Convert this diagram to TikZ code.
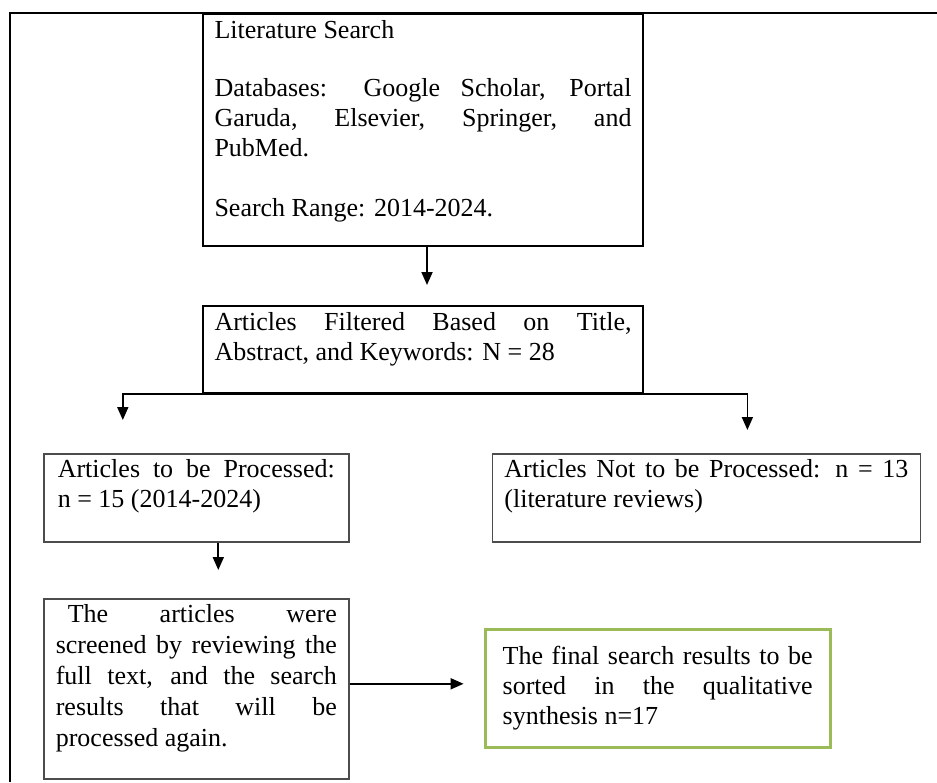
\documentclass[tikz,border=0pt]{standalone}
\usepackage{fontspec}
\setmainfont{Liberation Serif}
\usetikzlibrary{arrows.meta,positioning}
\definecolor{boxgreen}{HTML}{9BBB59}
\hbadness=10000

\begin{document}
\begin{tikzpicture}[
x=0.5pt,y=-0.5pt,
stepbox/.style={
  draw=black!70,
  line width=0.8pt,
  anchor=north west,
  align=justify,
  inner xsep=5.75pt,
  inner ysep=3pt,
  text height=9pt,
  font=\fontsize{13}{15}\selectfont
},
mainbox/.style={
  stepbox,
  draw=black,
  line width=1pt
},
greenbox/.style={
  stepbox,
  draw=boxgreen,
  line width=1.6pt,
  inner xsep=8.75pt,
  inner ysep=8.5pt
},
arr/.style={
  -{Triangle[length=6.5pt,width=5.5pt]},
  line width=0.9pt
}
]
\useasboundingbox (0,0) rectangle (937,782);

% page frame
\draw[line width=1pt] (10,782) -- (10,13) -- (937,13);

\node[mainbox,text width=208.5pt,text depth=101pt] (lit) at (202,13)
  {Literature Search\par\vspace{14pt}
   Databases: Google Scholar, Portal\linebreak Garuda, Elsevier, Springer, and\linebreak PubMed.\par\vspace{15pt}
   Search Range: 2014-2024.};
\node[mainbox,text width=208.5pt,text depth=28.5pt,below=29pt of lit] (filt)
  {Articles Filtered Based on Title,\linebreak Abstract, and Keywords: N = 28};

\node[stepbox,inner xsep=7pt,text width=138.5pt,text depth=29pt] (proc) at (43,453)
  {Articles to be Processed:\linebreak n = 15 (2014-2024)};
\node[stepbox,inner xsep=6pt,text width=202pt,text depth=29pt,right=71pt of proc] (excl)
  {Articles Not to be Processed: n = 13\linebreak (literature reviews)};

\node[stepbox,inner xsep=6pt,text width=140.5pt,text depth=75pt,
  font=\fontsize{13}{15.5}\selectfont,below=27.7pt of proc] (scr)
  {\hspace*{6pt}The articles were\linebreak screened by reviewing the\linebreak
   full text, and the search\linebreak results that will be\linebreak processed again.};
\node[greenbox,text width=155pt,text depth=33pt,right=67pt of scr] (final)
  {The final search results to be\linebreak sorted in the qualitative\linebreak synthesis n=17};

\draw[arr,shorten >=10pt] ([xshift=2pt]lit.south) -- ([xshift=2pt]filt.north);
\draw[arr,shorten >=16.5pt] (filt.south) -| ([xshift=-36.75pt]proc.north);
\draw[arr,shorten >=11.5pt] (filt.south) -| ([xshift=20.5pt]excl.north);
\draw[arr,shorten >=14pt] ([xshift=11pt]proc.south) -- ([xshift=11pt]scr.north);
\draw[arr,shorten >=10pt] ([yshift=2.5pt]scr.east) -- ([yshift=2.5pt]scr.east -| final.west);
\end{tikzpicture}
\end{document}
